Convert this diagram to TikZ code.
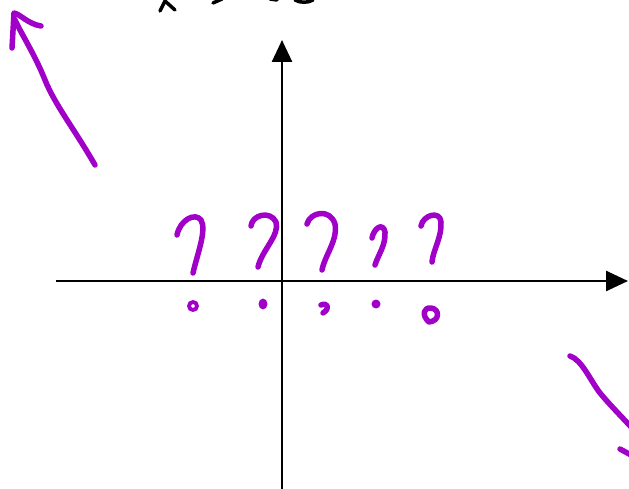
\documentclass[tikz,border=0pt]{standalone}
\usetikzlibrary{arrows.meta}
\definecolor{ink}{RGB}{160,0,200}
\tikzset{
  pen/.style={draw=ink,line width=5.5pt,line cap=round,line join=round},
  thinpen/.style={draw=ink,line width=3.8pt},
  blackpen/.style={draw=black,line width=3.5pt,line cap=round,line join=round},
  axis/.style={draw=black,line width=2.6pt,-{Triangle[length=22pt,width=20pt]}},
  dotfill/.style={fill=ink}
}
\begin{document}
\begin{tikzpicture}[x=1pt,y=-1pt]
\useasboundingbox (0,0) rectangle (629,489);
% axes
\coordinate (xl) at (56,281);
\coordinate (xr) at (628,281);
\coordinate (yb) at (282,492);
\coordinate (yt) at (282,40);
\draw[axis] (xl) -- (xr);
\draw[axis] (yb) -- (yt);
% top cut-off handwriting
\draw[blackpen] (160,11) -- (165,1) -- (175,10);
\draw[blackpen] (213,3) -- (222,-1);
\draw[blackpen] (270,-1) -- (277,0);
\draw[blackpen] (295,0) .. controls (300,3) and (308,3) .. (313,0);
% top-left arrow
\draw[pen] (95,165) .. controls (75,130) and (55,105) .. (45,80) .. controls (35,55) and (22,35) .. (15,20);
\draw[pen] (12,48) -- (14,13) .. controls (20,14) and (28,24) .. (41,26);
% bottom-right strokes
\draw[pen] (570,356) .. controls (582,360) and (590,380) .. (600,393) .. controls (610,405) and (620,415) .. (632,428);
\draw[pen] (620,449) -- (631,455);
% question marks
\draw[pen] (177,235) .. controls (180,220) and (195,212) .. (201,220) .. controls (207,230) and (197,255) .. (193,273);
\draw[thinpen] (193,306) circle (4pt);
\draw[pen] (251,226) .. controls (252,215) and (270,210) .. (276,222) .. controls (280,235) and (262,250) .. (258,267);
\fill[dotfill] (263,304) ellipse (4.5pt and 5.5pt);
\draw[pen] (307,224) .. controls (310,212) and (330,208) .. (335,224) .. controls (338,240) and (325,255) .. (322,270);
\draw[pen] (321,305) .. controls (327,302) and (331,308) .. (323,313);
\draw[pen] (372,238) .. controls (374,228) and (383,222) .. (385,232) .. controls (386,245) and (378,255) .. (375,265);
\fill[dotfill] (376,304) circle (4.5pt);
\draw[pen] (421,226) .. controls (423,215) and (440,210) .. (441,222) .. controls (442,237) and (433,250) .. (432,262);
\draw[pen] (429,322) .. controls (421,315) and (424,307) .. (431,308) .. controls (440,309) and (440,321) .. (429,322);
\end{tikzpicture}
\end{document}
